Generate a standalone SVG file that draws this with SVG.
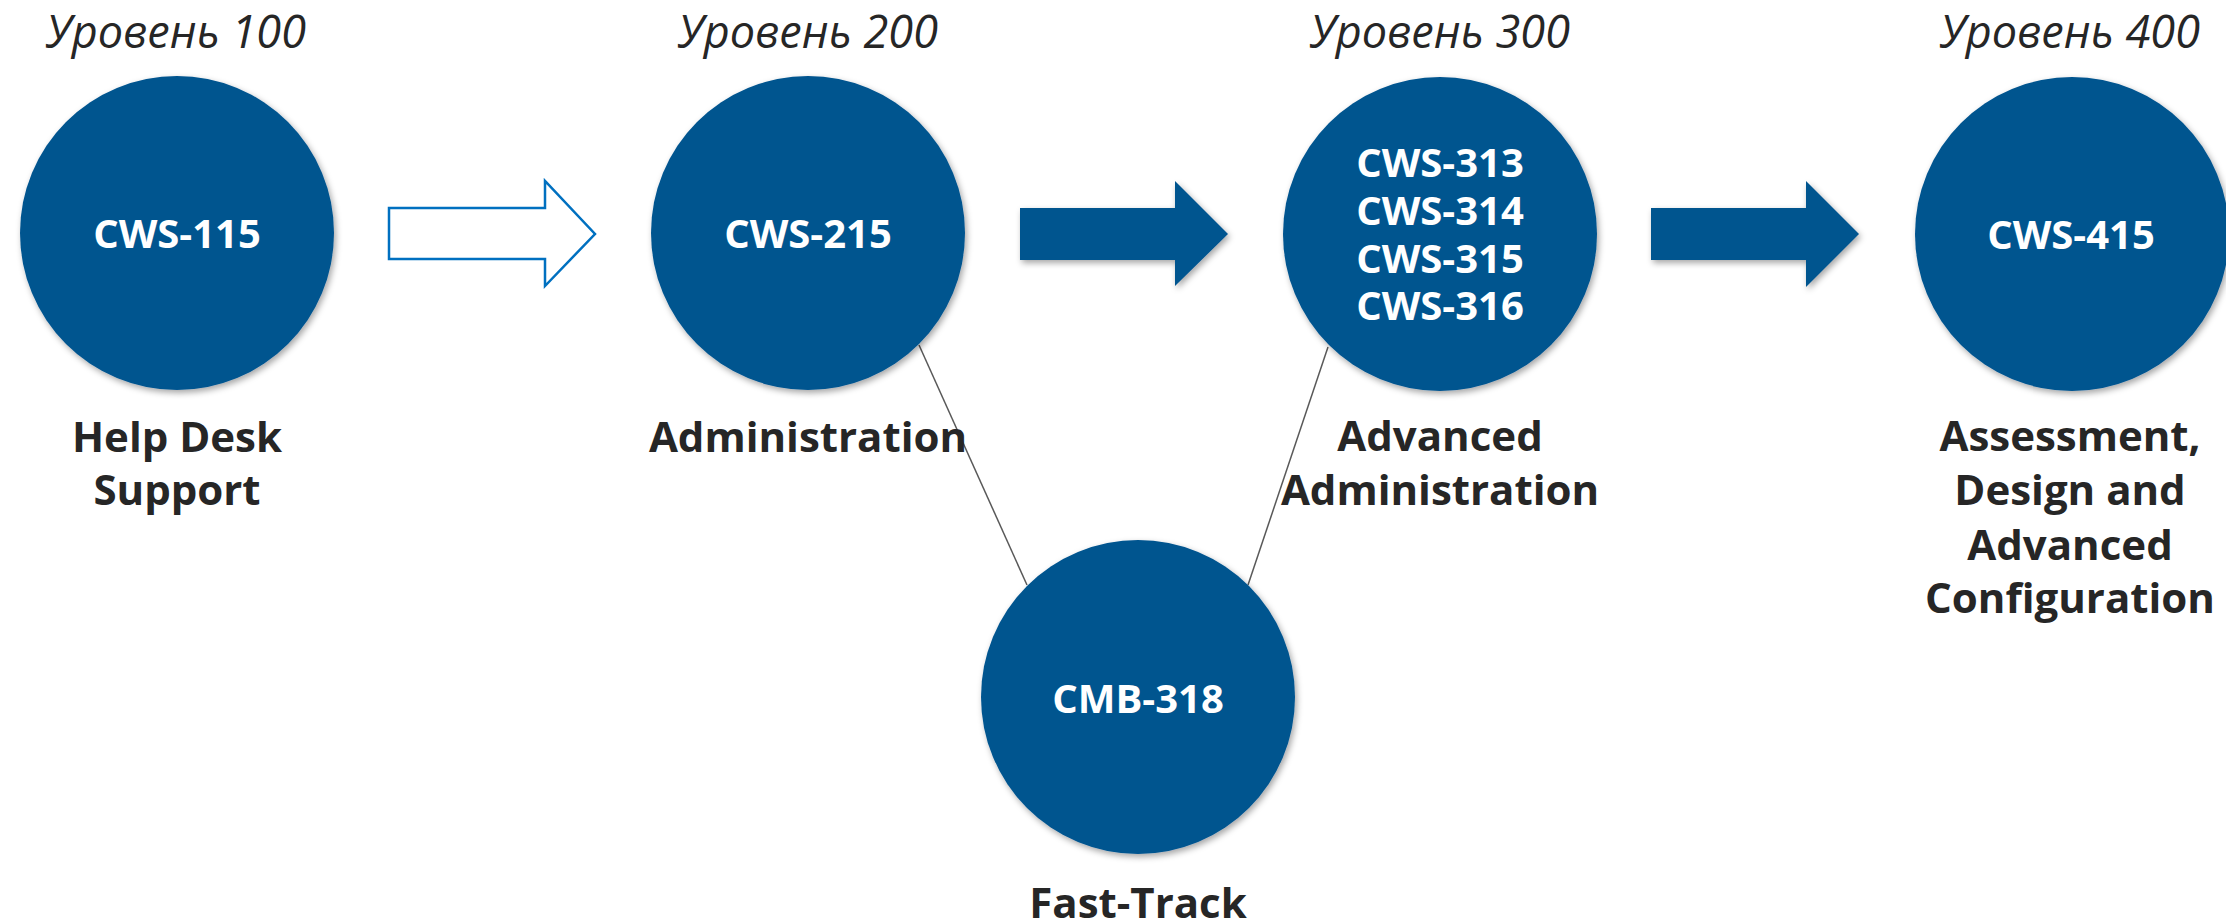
<svg xmlns="http://www.w3.org/2000/svg" width="2226" height="922" viewBox="0 0 2226 922">
<style>
.circ{fill:#02548F;filter:url(#sh)}
.code{font-family:"Open Sans","Liberation Sans",sans-serif;font-weight:700;font-size:40px;fill:#FFFFFF;text-anchor:middle}
.lbl{font-family:"Open Sans","Liberation Sans",sans-serif;font-weight:700;font-size:42px;fill:#262626;text-anchor:middle}
.lvl{font-family:"Open Sans","Liberation Sans",sans-serif;font-style:italic;font-weight:400;font-size:45px;fill:#262626;text-anchor:middle}
.link{stroke:#595959;stroke-width:1.5;fill:none}
.solid{fill:#02548F;filter:url(#sh)}
.open{fill:#FFFFFF;stroke:#0070C0;stroke-width:2.5}
</style>
<defs>
<filter id="sh" x="-20%" y="-20%" width="140%" height="140%">
<feDropShadow dx="2" dy="3" stdDeviation="3" flood-color="#000000" flood-opacity="0.35"/>
</filter>
</defs>
<rect width="2226" height="922" fill="#FFFFFF"/>
<g id="levels">
<text class="lvl" x="176" y="48">Уровень 100</text>
<text class="lvl" x="808" y="48">Уровень 200</text>
<text class="lvl" x="1440" y="48">Уровень 300</text>
<text class="lvl" x="2070" y="48">Уровень 400</text>
</g>
<g id="connectors">
<line class="link" x1="919" y1="345" x2="1027" y2="585"/>
<line class="link" x1="1328" y1="347" x2="1248" y2="585"/>
<path class="open" d="M389,208 H545 V181 L595,234 L545,286 V259 H389 Z"/>
<path class="solid" d="M1020,208 H1175 V181 L1228,234 L1175,286 V260 H1020 Z"/>
<path class="solid" d="M1651,208 H1806 V181 L1859,234 L1806,287 V260 H1651 Z"/>
</g>
<g id="node-cws115">
<circle class="circ" cx="177" cy="233" r="157"/>
<text class="code" x="177" y="248">CWS-115</text>
<text class="lbl" x="177" y="452">Help Desk</text>
<text class="lbl" x="177" y="505">Support</text>
</g>
<g id="node-cws215">
<circle class="circ" cx="808" cy="233" r="157"/>
<text class="code" x="808" y="248">CWS-215</text>
<text class="lbl" x="808" y="452">Administration</text>
</g>
<g id="node-cws3xx">
<circle class="circ" cx="1440" cy="234" r="157"/>
<text class="code" x="1440" y="177">CWS-313</text>
<text class="code" x="1440" y="225">CWS-314</text>
<text class="code" x="1440" y="273">CWS-315</text>
<text class="code" x="1440" y="320">CWS-316</text>
<text class="lbl" x="1440" y="451">Advanced</text>
<text class="lbl" x="1440" y="505">Administration</text>
</g>
<g id="node-cws415">
<circle class="circ" cx="2072" cy="234" r="157"/>
<text class="code" x="2071" y="249">CWS-415</text>
<text class="lbl" x="2070" y="451">Assessment,</text>
<text class="lbl" x="2070" y="505">Design and</text>
<text class="lbl" x="2070" y="560">Advanced</text>
<text class="lbl" x="2070" y="613">Configuration</text>
</g>
<g id="node-cmb318">
<circle class="circ" cx="1138" cy="697" r="157"/>
<text class="code" x="1138" y="713">CMB-318</text>
<text class="lbl" x="1138" y="918">Fast-Track</text>
</g>
</svg>
